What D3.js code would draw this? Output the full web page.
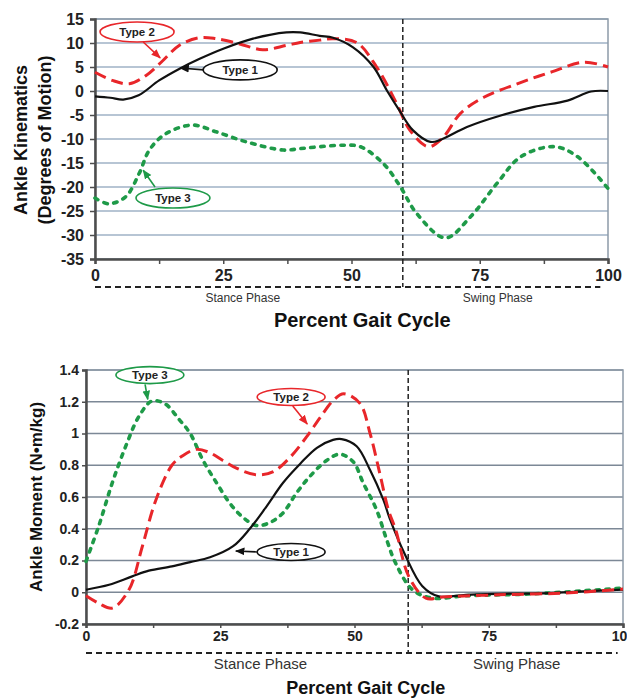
<!doctype html>
<html>
  <head>
    <script src="https://cdnjs.cloudflare.com/ajax/libs/d3/7.8.5/d3.min.js"></script>
    <style>
      body { margin: 0; background: #fff; }
      svg { display: block; font-family: "Liberation Sans", Arial, sans-serif; }
      .tick text { font-weight: bold; fill: #222; }
      .axis path, .axis line { stroke: #4d4d4d; }
      .title { font-weight: bold; fill: #111; text-anchor: middle; }
      .phase { fill: #333; text-anchor: middle; }
      .tag { font-weight: bold; text-anchor: middle; fill: #222; }
    </style>
  </head>
  <body>
    <svg width="627" height="698"></svg>

    <script>
      // ---- data (percent gait cycle, value) ----
      var kinType1 = [[0,-1.1],[3,-1.4],[5.5,-1.8],[8.5,-0.9],[12.5,2.2],[16.4,4.6],[20.4,6.7],[25,8.8],
        [30.8,10.9],[37.3,12.2],[40,12.2],[43.8,11.5],[46.4,11.1],[50.3,9.1],[54.3,5],[56.9,0.1],
        [59.3,-4],[62,-8.2],[65.4,-10.6],[67.3,-10.2],[72.5,-7.5],[79.1,-5.1],[85.6,-3.3],[92.1,-2],
        [96.7,-0.1],[100,0]];
      var kinType2 = [[0,3.9],[3.4,2.2],[6.7,1.5],[9.9,3.2],[13.2,6.3],[16.4,9.5],[20.4,11.1],[23.6,10.9],
        [28.2,9.8],[32.7,8.6],[37.3,9.5],[40,10.1],[43.8,10.6],[46.4,10.9],[51,10.1],[54.9,5],
        [58.8,-2.6],[61.4,-8.2],[65,-11.6],[67.9,-9.6],[71.2,-4.7],[75.8,-1.3],[82.3,1.5],[88.8,3.9],
        [95.4,6],[100,5]];
      var kinType3 = [[0,-22.3],[2.7,-23.5],[6,-22],[8.6,-17.2],[10.6,-12.3],[13.8,-8.9],[19,-7.1],
        [23.6,-8.5],[29.5,-10.6],[36.7,-12.3],[40,-12],[43.8,-11.6],[48.4,-11.3],[51.7,-11.6],
        [56.2,-15.1],[59.5,-19.9],[62.7,-25.5],[68.3,-30.6],[73.2,-26.2],[78.4,-19.2],[83,-13.7],
        [89.5,-11.6],[94.1,-13.7],[100,-20.3]];

      var momType1 = [[0,0.016],[4.3,0.047],[8.6,0.1],[11.7,0.136],[16,0.163],[19.4,0.19],[23.1,0.22],
        [27.4,0.29],[30.5,0.4],[33.6,0.54],[36.7,0.69],[39.9,0.81],[43,0.91],[46,0.96],[47.6,0.965],
        [50.4,0.92],[52.9,0.77],[55.4,0.58],[56.6,0.46],[59.5,0.23],[62.6,0.04],[65.7,-0.026],
        [70.7,-0.016],[76.9,-0.01],[86.2,-0.005],[92.4,0.005],[100,0.016]];
      var momType2 = [[0,-0.022],[2.4,-0.07],[4.9,-0.1],[8,0.016],[10.5,0.29],[13,0.58],[16,0.8],
        [18,0.86],[20.5,0.9],[23,0.88],[25.5,0.83],[28.1,0.78],[31.8,0.74],[34.9,0.76],[38,0.85],[41.1,0.98],
        [43.6,1.1],[46.1,1.21],[48,1.25],[51,1.19],[52.9,1],[54.7,0.75],[56.3,0.52],[57.7,0.39],
        [60.1,0.1],[63.3,-0.037],[66.4,-0.03],[76.9,-0.016],[89.3,-0.005],[100,0.02]];
      var momType3 = [[0,0.195],[2.4,0.42],[4.9,0.69],[7.4,0.92],[9.9,1.11],[12.3,1.205],[14.8,1.185],
        [17.3,1.09],[19.4,1],[21.8,0.83],[24.3,0.69],[26.8,0.56],[29.3,0.47],[31.8,0.42],[34.3,0.44],
        [36.7,0.5],[39.2,0.625],[41.7,0.73],[44.8,0.83],[47.3,0.87],[49.8,0.82],[51.6,0.69],[54.1,0.52],
        [56,0.33],[57.7,0.18],[60.8,0.016],[64.5,-0.037],[70.7,-0.022],[83.1,-0.01],[100,0.026]];

      var xTicks = [0, 12.5, 25, 37.5, 50, 62.5, 75, 87.5, 100];
      var kinTicks = [15, 10, 5, 0, -5, -10, -15, -20, -25, -30, -35];
      var momTicks = [1.4, 1.2, 1, 0.8, 0.6, 0.4, 0.2, 0, -0.2];
      var phaseSplit = 60;

      // label, ellipse centre, arrow start, arrow tip (data units)
      var kinTags = [
        { label: "Type 2", color: "#e8262a", c: [8.2, 12.3], a: [9.4, 10.2], t: [12.7, 6.9] },
        { label: "Type 1", color: "#111", c: [28.3, 4.4], a: [21.2, 4.4], t: [16.6, 4.8] },
        { label: "Type 3", color: "#1e9a48", c: [15.2, -22.3], a: [11.7, -20], t: [9.4, -16.5] }
      ];
      var momTags = [
        { label: "Type 3", color: "#1e9a48", c: [11.9, 1.368], a: [11, 1.31], t: [11.5, 1.215] },
        { label: "Type 2", color: "#e8262a", c: [38.2, 1.23], a: [38.5, 1.173], t: [41.2, 1.06] },
        { label: "Type 1", color: "#111", c: [38.2, 0.254], a: [31.8, 0.254], t: [27.9, 0.26] }
      ];

      var styles = {
        t1: { color: "#111", width: 2.2, dash: null },
        t2: { color: "#e8262a", width: 3, dash: "12,6" },
        t3: { color: "#1e9a48", width: 3.6, dash: "3.5,6.5" }
      };

      var svg = d3.select("svg");

      var defs = svg.append("defs");
      ["#e8262a", "#111", "#1e9a48"].forEach(function (c, i) {
        defs.append("marker")
            .attr("id", "arr" + i)
            .attr("viewBox", "0 0 10 10")
            .attr("refX", 9).attr("refY", 5)
            .attr("markerWidth", 6).attr("markerHeight", 6)
            .attr("orient", "auto")
          .append("path")
            .attr("d", "M0,1L10,5L0,9z")
            .attr("fill", c);
      });
      var markerFor = { "#e8262a": "arr0", "#111": "arr1", "#1e9a48": "arr2" };

      function drawPanel(p) {
        var x = d3.scaleLinear().domain([0, 100]).range(p.xr);
        var y = d3.scaleLinear().domain([d3.min(p.yTicks), d3.max(p.yTicks)]).range(p.yr);
        var g = svg.append("g");

        // grid
        g.selectAll("line.grid").data(p.yTicks).enter()
          .append("line")
            .attr("x1", x(0)).attr("x2", x(100))
            .attr("y1", d => y(d)).attr("y2", d => y(d))
            .attr("stroke", p.gridColor).attr("stroke-width", 1.6);

        // frame
        g.append("rect")
            .attr("x", x(0)).attr("y", y.range()[1])
            .attr("width", x(100) - x(0)).attr("height", y.range()[0] - y.range()[1])
            .attr("fill", "none").attr("stroke", "#8d9aa8").attr("stroke-width", 1.5);

        // axes
        var xa = g.append("g").attr("class", "axis")
            .attr("transform", "translate(0," + y.range()[0] + ")")
            .call(d3.axisBottom(x).tickValues(xTicks).tickSize(p.tick).tickPadding(p.pad)
              .tickFormat(d => d % 25 === 0 ? d : ""));
        var ya = g.append("g").attr("class", "axis")
            .attr("transform", "translate(" + x(0) + ",0)")
            .call(d3.axisLeft(y).tickValues(p.yTicks).tickSize(p.tick).tickPadding(p.pad)
              .tickFormat(d => String(+d.toFixed(1))));
        [xa, ya].forEach(a => {
          a.select(".domain").attr("stroke-width", 2.5);
          a.selectAll(".tick line").attr("stroke-width", 1.5);
          a.selectAll(".tick text").style("font-size", p.tickFont + "px");
        });

        // phase split and phase bracket
        g.append("line")
            .attr("x1", x(phaseSplit)).attr("x2", x(phaseSplit))
            .attr("y1", y.range()[1]).attr("y2", p.phaseY)
            .attr("stroke", "#222").attr("stroke-width", 1.5).attr("stroke-dasharray", "5,3");
        g.append("line")
            .attr("x1", x(0)).attr("x2", x(p.phaseEnd))
            .attr("y1", p.phaseY).attr("y2", p.phaseY)
            .attr("stroke", "#222").attr("stroke-width", 1.8).attr("stroke-dasharray", "6,4");
        g.append("text").attr("class", "phase")
            .attr("x", x(p.stanceAt)).attr("y", p.phaseY + p.phaseGap)
            .style("font-size", p.phaseFont + "px").text("Stance Phase");
        g.append("text").attr("class", "phase")
            .attr("x", x(p.swingAt)).attr("y", p.phaseY + p.phaseGap)
            .style("font-size", p.phaseFont + "px").text("Swing Phase");

        // titles
        g.append("text").attr("class", "title")
            .attr("x", x(p.xTitleAt)).attr("y", p.xTitleY)
            .style("font-size", p.xTitleFont + "px").text("Percent Gait Cycle");
        var yMid = (y.range()[0] + y.range()[1]) / 2 + p.yTitleShift;
        p.yTitle.forEach(function (t, i) {
          g.append("text").attr("class", "title")
              .attr("transform", "translate(" + p.yTitleX[i] + "," + yMid + ") rotate(-90)")
              .style("font-size", p.yTitleFont + "px").text(t);
        });

        // curves
        var line = d3.line().x(d => x(d[0])).y(d => y(d[1])).curve(d3.curveCatmullRom.alpha(0.5));
        g.selectAll("path.curve").data(p.series).enter()
          .append("path")
            .attr("class", "curve")
            .attr("d", d => line(d.values))
            .attr("fill", "none")
            .attr("stroke", d => styles[d.key].color)
            .attr("stroke-width", d => styles[d.key].width)
            .attr("stroke-dasharray", d => styles[d.key].dash)
            .attr("stroke-linecap", d => d.key === "t3" ? "round" : "butt");

        // tags
        var tg = g.selectAll("g.tag").data(p.tags).enter().append("g");
        tg.append("line")
            .attr("x1", d => x(d.a[0])).attr("y1", d => y(d.a[1]))
            .attr("x2", d => x(d.t[0])).attr("y2", d => y(d.t[1]))
            .attr("stroke", d => d.color).attr("stroke-width", 1.6)
            .attr("marker-end", d => "url(#" + markerFor[d.color] + ")");
        tg.append("ellipse")
            .attr("cx", d => x(d.c[0])).attr("cy", d => y(d.c[1]))
            .attr("rx", p.tagRx).attr("ry", p.tagRy)
            .attr("fill", "#fff").attr("stroke", d => d.color).attr("stroke-width", 1.6);
        tg.append("text").attr("class", "tag")
            .attr("x", d => x(d.c[0])).attr("y", d => y(d.c[1]))
            .attr("dy", "0.36em")
            .style("font-size", "11.5px")
            .text(d => d.label);
      }

      drawPanel({
        xr: [95, 608], yr: [259, 19], yTicks: kinTicks, gridColor: "#9fb2c6",
        tick: 5, pad: 6, tickFont: 16,
        phaseY: 287, phaseEnd: 98.5, phaseGap: 15, phaseFont: 12, stanceAt: 28.8, swingAt: 78.5,
        xTitleAt: 52.1, xTitleY: 327, xTitleFont: 20,
        yTitle: ["Ankle Kinematics", "(Degrees of Motion)"], yTitleX: [27, 51], yTitleShift: 1, yTitleFont: 18,
        series: [{ key: "t3", values: kinType3 }, { key: "t2", values: kinType2 }, { key: "t1", values: kinType1 }],
        tags: kinTags, tagRx: 37, tagRy: 10
      });

      drawPanel({
        xr: [86, 623], yr: [624, 370], yTicks: momTicks, gridColor: "#7c8896",
        tick: 4, pad: 3, tickFont: 14,
        phaseY: 653, phaseEnd: 99, phaseGap: 16, phaseFont: 15, stanceAt: 32.5, swingAt: 80.2,
        xTitleAt: 52.1, xTitleY: 694, xTitleFont: 18,
        yTitle: ["Ankle Moment (N\u2022m/kg)"], yTitleX: [42], yTitleShift: 0, yTitleFont: 17,
        series: [{ key: "t3", values: momType3 }, { key: "t1", values: momType1 }, { key: "t2", values: momType2 }],
        tags: momTags, tagRx: 34, tagRy: 8.5
      });
    </script>
  </body>
</html>
